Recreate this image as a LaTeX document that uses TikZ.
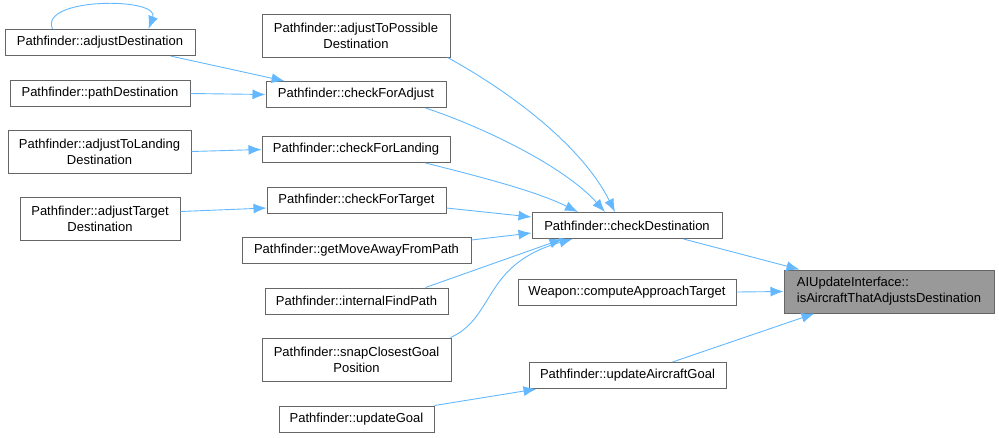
\documentclass[tikz,border=0pt]{standalone}
\usepackage{fontspec}
\setmainfont{Liberation Sans}
\usetikzlibrary{arrows.meta, positioning, calc}
\definecolor{lineablue}{HTML}{63B8FF}
\definecolor{bordegris}{HTML}{666666}
\definecolor{rellenogris}{HTML}{999999}
\tikzset{
  fnode/.style={rectangle, draw=bordegris, line width=1pt, fill=white, inner sep=0pt,
                minimum height=26pt, text centered, align=center, font=\fontsize{13}{16}\selectfont},
  fnodeb/.style={fnode, minimum height=43pt},
  fsel/.style={fnodeb, fill=rellenogris, align=left},
  callarrow/.style={line width=0.9pt, color=lineablue, -{Latex[length=13pt,width=10pt]}}
}

\begin{document}
\begin{tikzpicture}[x=1pt,y=-1pt]
  \useasboundingbox (0,0) rectangle (999,437);
  % left column
  \node (adjdest) [fnode, minimum width=190pt] at (100,42.5) {Pathfinder::adjustDestination};
  \node (pathdest) [fnode, minimum width=180pt] at (100,93.5) {Pathfinder::pathDestination};
  \node (adjland) [fnodeb, minimum width=183pt] at (99.5,151.5) {Pathfinder::adjustToLanding\\Destination};
  \node (adjtarget) [fnodeb, minimum width=160pt] at (100,218.5) {Pathfinder::adjustTarget\\Destination};
  % middle column
  \node (adjposs) [fnodeb, minimum width=188pt] at (356,35.5) {Pathfinder::adjustToPossible\\Destination};
  \node (chkadjust) [fnode, minimum width=180pt] at (356,94.5) {Pathfinder::checkForAdjust};
  \node (chkland) [fnode, minimum width=188pt] at (356,149.5) {Pathfinder::checkForLanding};
  \node (chktarget) [fnode, minimum width=179pt] at (356.5,200) {Pathfinder::checkForTarget};
  \node (getmove) [fnode, minimum width=229pt] at (356.5,250) {Pathfinder::getMoveAwayFromPath};
  \node (findpath) [fnode, minimum width=183pt] at (356.5,301) {Pathfinder::internalFindPath};
  \node (snapgoal) [fnodeb, minimum width=189pt] at (356.5,359.5) {Pathfinder::snapClosestGoal\\Position};
  \node (updgoal) [fnode, minimum width=155pt] at (356.5,419) {Pathfinder::updateGoal};
  % right columns
  \node (chkdest) [fnode, minimum width=190pt] at (627,225.5) {Pathfinder::checkDestination};
  \node (approach) [fnode, minimum width=218pt] at (627,292) {Weapon::computeApproachTarget};
  \node (updaircraft) [fnode, minimum width=197pt] at (627.5,375.5) {Pathfinder::updateAircraftGoal};
  \node (aircraft) [fsel, minimum width=210pt] at (889,291.5) {AIUpdateInterface::\\isAircraftThatAdjustsDestination};

  \draw [callarrow] ([xshift=48pt]adjdest.north west) .. controls +(-14,-32) and +(12,-32) .. ([xshift=144pt]adjdest.north west);
  \draw [callarrow] ([xshift=-25pt]adjdest.south east) -- ([xshift=19pt]chkadjust.north west);
  \draw [callarrow] (pathdest.east) -- (chkadjust.west);
  \draw [callarrow] (adjland.east) -- (chkland.west);
  \draw [callarrow] ([yshift=7pt]adjtarget.east) -- ([yshift=-8pt]chktarget.west);

  \draw [callarrow] ([xshift=-3pt]adjposs.south east) .. controls +(55,30) and +(-35,-70) .. ([xshift=-12pt]chkdest.north);
  \draw [callarrow] ([xshift=-21pt]chkadjust.south east) .. controls +(60,20) and +(-40,-45) .. ([xshift=-22pt]chkdest.north);
  \draw [callarrow] ([xshift=-25pt]chkland.south east) .. controls +(60,15) and +(-40,-20) .. ([xshift=-49pt]chkdest.north);
  \draw [callarrow] ([yshift=-8pt]chktarget.east) -- ([yshift=8.5pt]chkdest.west);
  \draw [callarrow] ([yshift=10pt]getmove.east) -- ([yshift=-7.5pt]chkdest.west);
  \draw [callarrow] ([xshift=-23pt]findpath.north east) -- ([xshift=31pt]chkdest.south west);
  \draw [callarrow] ([xshift=-1pt]snapgoal.north east) .. controls +(45,-20) and +(-90,25) .. ([xshift=41pt]chkdest.south west);
  \draw [callarrow] (updgoal.north east) -- ([xshift=8pt]updaircraft.south west);

  \draw [callarrow] ([xshift=-39pt]chkdest.south east) -- ([xshift=16pt]aircraft.north west);
  \draw [callarrow] (approach.east) -- (aircraft.west);
  \draw [callarrow] ([xshift=-54pt]updaircraft.north east) -- ([xshift=31pt]aircraft.south west);
\end{tikzpicture}
\end{document}
